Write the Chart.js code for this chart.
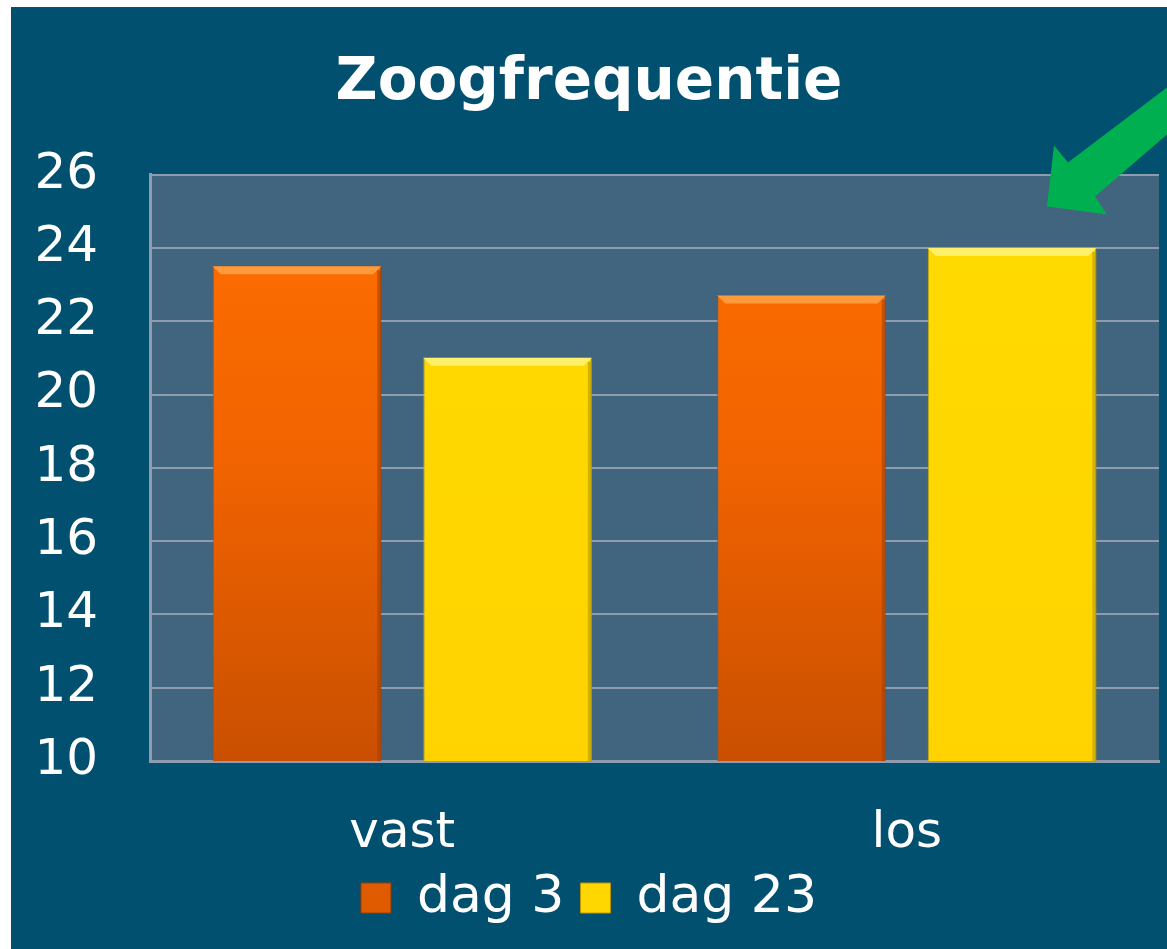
<!DOCTYPE html>
<html>
<head>
<meta charset="utf-8">
<script src="https://cdn.jsdelivr.net/npm/chart.js@4"></script>
<style>
    html, body { margin: 0; padding: 0; background: #ffffff; }
    #wrap { position: absolute; left: 11px; top: 7px; width: 1156px; height: 942px; background: #02506f; }
</style>
</head>
<body>
<div id="wrap"><canvas id="chart" width="1156" height="942"></canvas></div>
<script>
const categories = ["vast", "los"];
const dag3 = [23.5, 22.7];
const dag23 = [21, 24];
const seriesNames = ["dag 3", "dag 23"];
const yTicks = [10, 12, 14, 16, 18, 20, 22, 24, 26];

const FONT = "'DejaVu Sans', Verdana, sans-serif";

function orangeFill(context) {
    const area = context.chart.chartArea;
    if (!area) return "#f06400";
    const g = context.chart.ctx.createLinearGradient(0, area.top, 0, area.bottom);
    g.addColorStop(0, "#ff7000");
    g.addColorStop(0.5, "#f06300");
    g.addColorStop(1, "#c94f00");
    return g;
}

function yellowFill(context) {
    const area = context.chart.chartArea;
    if (!area) return "#ffd700";
    const g = context.chart.ctx.createLinearGradient(0, area.top, 0, area.bottom);
    g.addColorStop(0, "#ffdb00");
    g.addColorStop(1, "#ffd300");
    return g;
}

// plot area background
const plotBackground = {
    id: "plotBackground",
    beforeDraw(chart) {
        const { ctx, chartArea } = chart;
        ctx.save();
        ctx.fillStyle = "#41657f";
        ctx.fillRect(chartArea.left, chartArea.top, chartArea.right - chartArea.left, chartArea.bottom - chartArea.top);
        ctx.restore();
    }
};

// light strip on top of every bar and a darker right edge, like the bevel in the original
const bevel = {
    id: "bevel",
    afterDatasetsDraw(chart) {
        const ctx = chart.ctx;
        const bottom = chart.chartArea.bottom;
        chart.data.datasets.forEach((ds, i) => {
            const light = i === 0 ? "#ff9a3c" : "#fff06a";
            const dark = i === 0 ? "#a84000" : "#b89a00";
            chart.getDatasetMeta(i).data.forEach(bar => {
                const left = bar.x - bar.width / 2;
                const right = bar.x + bar.width / 2;
                const base = Math.min(bar.base, bottom);
                ctx.save();
                ctx.fillStyle = light;
                ctx.beginPath();
                ctx.moveTo(left, bar.y);
                ctx.lineTo(right, bar.y);
                ctx.lineTo(right - 8, bar.y + 8);
                ctx.lineTo(left + 8, bar.y + 8);
                ctx.closePath();
                ctx.fill();
                ctx.fillStyle = dark;
                ctx.globalAlpha = 0.6;
                ctx.fillRect(right - 4, bar.y + 4, 4, base - bar.y - 4);
                ctx.restore();
            });
        });
    }
};

// green arrow pointing at the chart's top right corner
const arrow = {
    id: "arrow",
    afterDraw(chart) {
        const ctx = chart.ctx;
        const r = chart.chartArea.right;
        const t = chart.chartArea.top;
        const pts = [[8, -87], [-91, -12], [-105, -29], [-112, 32], [-52, 40], [-64, 22], [8, -40]];
        ctx.save();
        ctx.fillStyle = "#00b050";
        ctx.beginPath();
        pts.forEach((p, i) => {
            if (i === 0) ctx.moveTo(r + p[0], t + p[1]);
            else ctx.lineTo(r + p[0], t + p[1]);
        });
        ctx.closePath();
        ctx.fill();
        ctx.restore();
    }
};

new Chart(document.getElementById("chart"), {
    type: "bar",
    data: {
        labels: categories,
        datasets: [
            {
                label: seriesNames[0],
                data: dag3,
                backgroundColor: orangeFill,
                borderColor: "#b84800",
                borderWidth: 1,
                categoryPercentage: 0.835,
                barPercentage: 0.8
            },
            {
                label: seriesNames[1],
                data: dag23,
                backgroundColor: yellowFill,
                borderColor: "#c9a800",
                borderWidth: 1,
                categoryPercentage: 0.835,
                barPercentage: 0.8
            }
        ]
    },
    options: {
        responsive: false,
        animation: false,
        layout: { padding: { left: 8, right: 8, top: 0, bottom: 15 } },
        plugins: {
            title: {
                display: true,
                text: "Zoogfrequentie",
                color: "#ffffff",
                font: { family: FONT, size: 58, weight: "bold" },
                padding: { top: 42, bottom: 56 }
            },
            legend: {
                position: "bottom",
                labels: {
                    color: "#ffffff",
                    font: { family: FONT, size: 52 },
                    boxWidth: 30,
                    boxHeight: 30,
                    padding: 16,
                    generateLabels(chart) {
                        const fills = ["#e05a00", "#ffd700"];
                        const borders = ["#9a3c00", "#b89800"];
                        return chart.data.datasets.map((ds, i) => ({
                            text: ds.label,
                            fillStyle: fills[i],
                            strokeStyle: borders[i],
                            lineWidth: 1,
                            fontColor: "#ffffff",
                            datasetIndex: i
                        }));
                    }
                }
            },
            tooltip: { enabled: false }
        },
        scales: {
            x: {
                grid: { display: false },
                border: { display: true, color: "#8e9dad", width: 3 },
                ticks: { color: "#ffffff", font: { family: FONT, size: 50 }, padding: 35 },
                afterFit(scale) {
                    scale.height = 95;
                }
            },
            y: {
                min: yTicks[0],
                max: yTicks[yTicks.length - 1],
                afterBuildTicks(scale) {
                    scale.ticks = yTicks.map(v => ({ value: v }));
                },
                afterFit(scale) {
                    scale.width = 131;
                },
                grid: { color: "#8e9dad", lineWidth: 2, drawTicks: false },
                border: { display: true, color: "#8e9dad", width: 3 },
                ticks: { color: "#ffffff", font: { family: FONT, size: 50 }, padding: 52 }
            }
        }
    },
    plugins: [plotBackground, bevel, arrow]
});
</script>
</body>
</html>
